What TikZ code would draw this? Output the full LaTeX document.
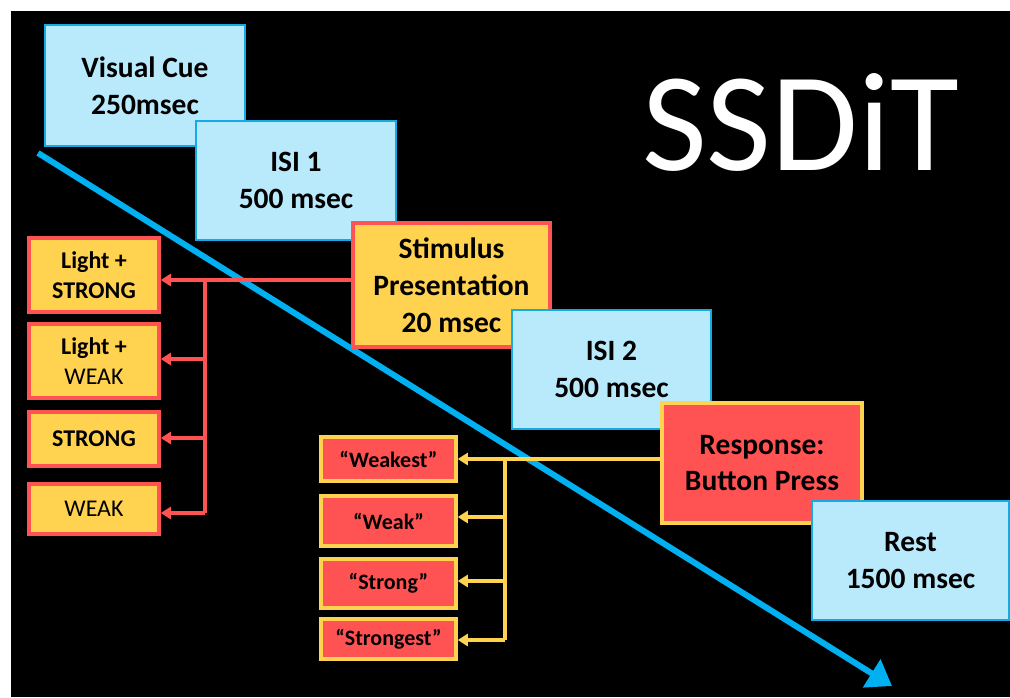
\documentclass[tikz,border=0pt]{standalone}
\usepackage{fontspec}
\setmainfont{Carlito}
\usetikzlibrary{arrows.meta}
\definecolor{cuefill}{RGB}{185,234,251}
\definecolor{cueline}{RGB}{20,170,230}
\definecolor{timecol}{RGB}{0,176,240}
\definecolor{gold}{RGB}{255,210,80}
\definecolor{coral}{RGB}{255,82,82}
\begin{document}
\begin{tikzpicture}[x=1pt,y=-1pt,
  bluebox/.style={draw=cueline,fill=cuefill,line width=2.5pt,inner sep=0pt,align=center,
    font=\bfseries\fontsize{29.5}{37}\selectfont},
  stimbox/.style={draw=coral,fill=gold,line width=3.5pt,inner sep=0pt,align=center,
    font=\bfseries\fontsize{29.5}{37}\selectfont},
  respbox/.style={draw=gold,fill=coral,line width=3.5pt,inner sep=0pt,align=center,
    font=\bfseries\fontsize{29.5}{36}\selectfont},
  condbox/.style={draw=coral,fill=gold,line width=3.5pt,inner sep=0pt,align=center,
    minimum width=130pt,font=\bfseries\fontsize{24}{30}\selectfont},
  ratebox/.style={draw=gold,fill=coral,line width=3.5pt,inner sep=0pt,align=center,
    minimum width=135pt,font=\bfseries\fontsize{22}{26}\selectfont},
  redcon/.style={draw=coral,line width=3.5pt},
  goldcon/.style={draw=gold,line width=3.5pt},
  tip/.style={-{Triangle[length=10pt,width=12pt]}}
]
\useasboundingbox (0,0) rectangle (1010,697);
\fill[white] (0,0) rectangle (1010,697);
\fill[black] (11,11) rectangle (1010,697);

% timeline
\coordinate (t0) at (38,153);
\coordinate (t1) at (892,686);
\draw[timecol,line width=6pt,-{Triangle[length=24pt,width=32pt]}] (t0) -- (t1);

% title
\node[anchor=base west,text=white,inner sep=0pt,font=\fontsize{141}{141}\selectfont] (title) at (642,170) {SSDiT};

% trial phases
\node[bluebox,minimum width=200pt,minimum height=121pt] (vc) at (145,85.5) {Visual Cue\\250msec};
\node[bluebox,minimum width=200pt,minimum height=119pt] (isi1) at (296,180.5) {ISI 1\\500 msec};
\node[stimbox,minimum width=197pt,minimum height=124pt] (stim) at (451.5,285) {Stimulus\\Presentation\\20 msec};
\node[bluebox,minimum width=199pt,minimum height=119pt] (isi2) at (611.5,369.5) {ISI 2\\500 msec};
\node[respbox,minimum width=200pt,minimum height=120pt] (resp) at (762,463) {Response:\\Button Press};
\node[bluebox,minimum width=197pt,minimum height=119pt] (rest) at (910.5,560.5) {Rest\\1500 msec};

% stimulus conditions
\node[condbox,minimum height=74pt] (l1) at (94,275) {Light +\\STRONG};
\node[condbox,minimum height=74pt] (l2) at (94,361) {Light +\\\mdseries WEAK};
\node[condbox,minimum height=54pt] (l3) at (94,439) {STRONG};
\node[condbox,minimum height=50pt,font=\mdseries\fontsize{24}{30}\selectfont] (l4) at (94,509) {WEAK};

% ratings
\node[ratebox,minimum height=44pt] (r1) at (388.5,459) {“Weakest”};
\node[ratebox,minimum height=50pt] (r2) at (388.5,521) {“Weak”};
\node[ratebox,minimum height=49pt] (r3) at (388.5,583.5) {“Strong”};
\node[ratebox,minimum height=40pt] (r4) at (388.5,639) {“Strongest”};

% red connectors
\coordinate (rj1) at (205,280);
\coordinate (rj2) at (205,359);
\coordinate (rj3) at (205,438);
\coordinate (rj4) at (205,513);
\draw[redcon,tip] (stim.west |- rj1) -- (l1.east |- rj1);
\draw[redcon] (rj1) -- (rj4);
\draw[redcon,tip] (rj2) -- (l2.east |- rj2);
\draw[redcon,tip] (rj3) -- (l3.east |- rj3);
\draw[redcon,tip] (rj4) -- (l4.east |- rj4);

% gold connectors
\coordinate (yj1) at (505,459);
\coordinate (yj2) at (505,517);
\coordinate (yj3) at (505,581);
\coordinate (yj4) at (505,640);
\draw[goldcon,tip] (resp.west |- yj1) -- (r1.east |- yj1);
\draw[goldcon] (yj1) -- (yj4);
\draw[goldcon,tip] (yj2) -- (r2.east |- yj2);
\draw[goldcon,tip] (yj3) -- (r3.east |- yj3);
\draw[goldcon,tip] (yj4) -- (r4.east |- yj4);
\end{tikzpicture}
\end{document}
